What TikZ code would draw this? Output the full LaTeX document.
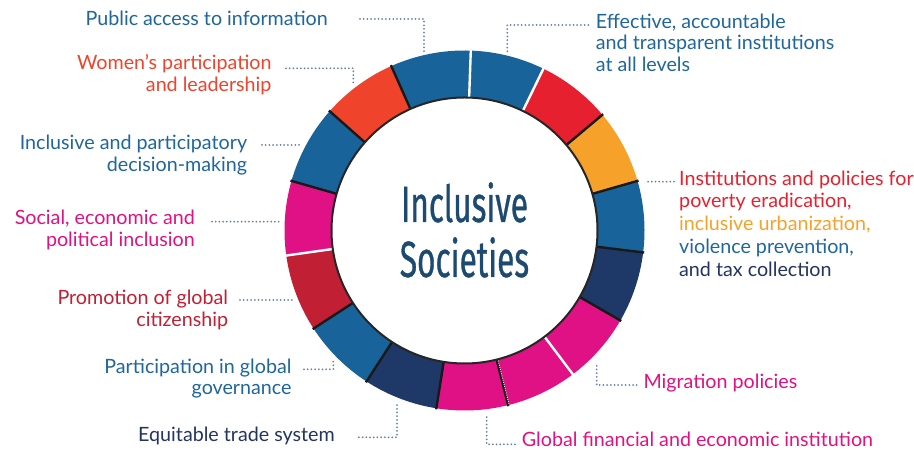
\documentclass[tikz,border=0pt]{standalone}
\usepackage{fontspec}
\setmainfont{Lato}
\newfontfamily\titlefont[FakeStretch=0.62, FakeBold=0.6]{Fira Sans}

% ring and label colours
\definecolor{ringblue}{HTML}{18639A}
\definecolor{ringred}{HTML}{E6202E}
\definecolor{ringorange}{HTML}{F6A12A}
\definecolor{ringnavy}{HTML}{1E3867}
\definecolor{ringmagenta}{HTML}{DF1184}
\definecolor{ringorred}{HTML}{EF432B}
\definecolor{ringdkred}{HTML}{C11F33}
\definecolor{titleblue}{HTML}{1C4A70}
\definecolor{leadgrey}{HTML}{6A80A8}
\definecolor{txtblue}{HTML}{1E669C}
\definecolor{txtnavy}{HTML}{243461}

\begin{document}
\begin{tikzpicture}[x=1pt, y=1pt,
    leader/.style={line width=2pt, leadgrey, dash pattern=on 0pt off 3.7pt, line cap=round},
    lbl/.style={font=\fontsize{19.7}{21.7}\selectfont, inner sep=0pt},
    lblr/.style={lbl, align=right, anchor=base east},
    lbll/.style={lbl, align=left, anchor=base west},
    sep/.style={line width=2.4pt}]
  \useasboundingbox (0,0) rectangle (914,452);

  % --- ring: 15 sectors between r=133 and r=180, clockwise from the top ---
  \begin{scope}[shift={(464.5,221.5)}]
    \foreach \a/\b/\col in {88/64/ringblue, 64/40/ringred, 40/16/ringorange,
        16/-7/ringblue, -7/-30/ringnavy, -30/-53/ringmagenta,
        -53/-76/ringmagenta, -76/-99/ringmagenta, -99/-123/ringnavy,
        -123/-147/ringblue, -147/-172/ringdkred, -172/-196/ringmagenta,
        -196/-221.5/ringblue, -221.5/-246/ringorred, -246/-272/ringblue}
      \fill[\col] (\a:180) arc[start angle=\a, end angle=\b, radius=180]
        -- (\b:133) arc[start angle=\b, end angle=\a, radius=133] -- cycle;

    % separators between the sectors
    \foreach \a/\col in {88/white, 64/white, 40/black, 16/black, -7/black,
        -30/black, -53/white, -76/black, -99/black, -123/black, -147/black,
        -172/white, -196/black, -221.5/black, -246/black}
      \draw[sep, \col!90!white] (\a:133) -- (\a:181);
    \draw[line width=0.8pt, white, dash pattern=on 1pt off 1.2pt]
      ([shift={(1.2,0)}]-76:134) -- ([shift={(1.2,0)}]-76:180);

    % inner rim
    \draw[line width=2pt, black!85] (0,0) circle[radius=133];

    % where the leaders meet the ring
    \coordinate (r-pub)  at (-40.5,175.9);
    \coordinate (r-wom)  at (-111.2,145);
    \coordinate (r-eff)  at (42.8,177.2);
    \coordinate (r-inst) at (180.5,48.8);
    \coordinate (r-mig)  at (132.2,-133.8);
    \coordinate (r-fin)  at (22.2,-184.5);
    \coordinate (r-trd)  at (-67.5,-171.2);
    \coordinate (r-gov)  at (-131.2,-128.5);
    \coordinate (r-cit)  at (-171.5,-69.5);
    \coordinate (r-soc)  at (-182.5,8.8);
    \coordinate (r-dec)  at (-162.5,85.5);
  \end{scope}

  % multi-line nodes sit on the baseline of their last line
  \node[font=\titlefont\fontsize{51}{55}\selectfont, text=titleblue,
        align=center, anchor=base, inner sep=0pt] (title) at (464.5,175)
    {Inclusive\\Societies};

  % --- labels, left side ---
  \node[lblr, text=txtblue] (pub) at (328,426.3) {Public access to information};
  \node[lblr, text=ringorred] (wom) at (271.7,360.3)
    {Women’s participation\\and leadership};
  \node[lblr, text=txtblue] (dec) at (247.3,280.3)
    {Inclusive and participatory\\decision-making};
  \node[lblr, text=ringmagenta] (soc) at (195,205.3)
    {Social, economic and\\political inclusion};
  \node[lblr, text=ringdkred] (cit) at (228.3,125.3)
    {Promotion of global\\citizenship};
  \node[lblr, text=txtblue] (gov) at (291.7,57)
    {Participation in global\\governance};
  \node[lbll, text=txtnavy] (trd) at (138,10.3) {Equitable trade system};

  % --- labels, right side ---
  \node[lbll, text=txtblue] (eff) at (595.7,380.3)
    {Effective, accountable\\and transparent institutions\\at all levels};
  \node[lbll, font=\fontsize{19.7}{22.9}\selectfont] (inst) at (679,175.3)
    {\textcolor{ringred}{Institutions and policies for}\\
     \textcolor{ringred}{poverty eradication,}\\
     \textcolor{ringorange}{inclusive urbanization,}\\
     \textcolor{txtblue}{violence prevention,}\\
     \textcolor{txtnavy}{and tax collection}};
  \node[lbll, text=ringmagenta] (mig) at (643.3,63.7) {Migration policies};
  \node[lbll, text=ringmagenta] (fin) at (521.7,5.3)
    {Global financial and economic institution};

  % --- dotted leaders ---
  \draw[leader] ([xshift=32pt,yshift=6.7pt]pub.base east) -| (r-pub);
  \draw[leader] ([xshift=14.3pt,yshift=23.4pt]wom.base east) -| (r-wom);
  \draw[leader] ([xshift=14.7pt,yshift=26.7pt]dec.base east) -- (r-dec);
  \draw[leader] ([xshift=17pt,yshift=25pt]soc.base east) -- (r-soc);
  \draw[leader] ([xshift=11.7pt,yshift=26.7pt]cit.base east) -- (r-cit);
  \draw[leader] ([xshift=12.3pt,yshift=25.7pt]gov.base east) -| (r-gov);
  \draw[leader] ([xshift=24pt,yshift=4.4pt]trd.base east) -| (r-trd);
  \draw[leader] ([xshift=-7.4pt,yshift=46.7pt]eff.base west) -| (r-eff);
  \draw[leader] ([xshift=-5pt,yshift=95pt]inst.base west) -- (r-inst);
  \draw[leader] ([xshift=-6.6pt,yshift=3.3pt]mig.base west) -| (r-mig);
  \draw[leader] ([xshift=-6.7pt,yshift=2.4pt]fin.base west) -| (r-fin);
\end{tikzpicture}
\end{document}
